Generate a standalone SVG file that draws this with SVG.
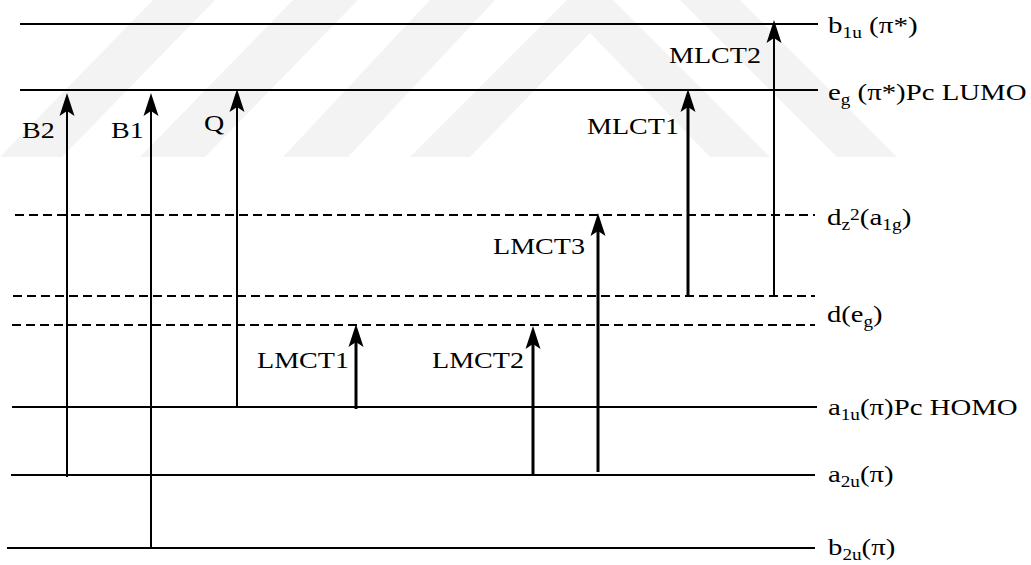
<svg xmlns="http://www.w3.org/2000/svg" width="1031" height="565" viewBox="0 0 1031 565">
  <style>
    .lvl { stroke: #000; stroke-width: 2; fill: none; }
    .dash { stroke: #000; stroke-width: 2; fill: none; stroke-dasharray: 9 5; }
    .arr { stroke: #000; stroke-width: 2; fill: none; marker-end: url(#head); }
    .arr.bold { stroke-width: 3; }
    text { font-family: "Liberation Serif", "Times New Roman", serif; font-size: 24px; fill: #000; }
    .sub { font-size: 16px; }
    .wm { fill: #f3f3f3; }
  </style>
  <defs>
    <marker id="head" viewBox="0 0 24 16" refX="5" refY="8" markerWidth="24" markerHeight="16" markerUnits="userSpaceOnUse" orient="auto">
      <path d="M0,0.5 L23,8 L0,15.5 L5,8 Z" fill="#000"/>
    </marker>
  </defs>

  <rect width="1031" height="565" fill="#fff"/>

  <!-- faint background emblem -->
  <g id="emblem">
    <polygon class="wm" points="0,157 62,157 215,0 153,0"/>
    <polygon class="wm" points="140,157 205,157 358,0 293,0"/>
    <polygon class="wm" points="283,157 348,157 495,0 430,0"/>
    <polygon class="wm" points="410,157 567,0 613,0 770,157 710,157 590,33 470,157"/>
    <polygon class="wm" points="680,0 740,0 897,157 837,157"/>
  </g>

  <!-- energy levels -->
  <g id="level-b1u">
    <line class="lvl" x1="20" y1="24" x2="818" y2="24"/>
    <g transform="translate(828,33) scale(1.21,1)"><text>b<tspan class="sub" dy="5">1u</tspan><tspan dy="-5"> (π*)</tspan></text></g>
  </g>
  <g id="level-eg">
    <line class="lvl" x1="20" y1="90" x2="818" y2="90"/>
    <g transform="translate(828,100) scale(1.2,1)"><text>e<tspan class="sub" dy="5">g</tspan><tspan dy="-5"> (π*)Pc LUMO</tspan></text></g>
  </g>
  <g id="level-dz2">
    <line class="dash" x1="15" y1="215" x2="815" y2="215"/>
    <g transform="translate(827,225) scale(1.21,1)"><text>d<tspan class="sub" dy="5">z</tspan><tspan class="sub" dy="-10">2</tspan><tspan dy="5">(a</tspan><tspan class="sub" dy="5">1g</tspan><tspan dy="-5">)</tspan></text></g>
  </g>
  <g id="level-deg">
    <line class="dash" x1="13" y1="296" x2="815" y2="296"/>
    <line class="dash" x1="12" y1="325" x2="815" y2="325"/>
    <g transform="translate(827,322) scale(1.19,1)"><text>d(e<tspan class="sub" dy="5">g</tspan><tspan dy="-5">)</tspan></text></g>
  </g>
  <g id="level-a1u">
    <line class="lvl" x1="12" y1="407" x2="817" y2="407"/>
    <g transform="translate(828,415) scale(1.2,1)"><text>a<tspan class="sub" dy="5">1u</tspan><tspan dy="-5">(π)Pc HOMO</tspan></text></g>
  </g>
  <g id="level-a2u">
    <line class="lvl" x1="11" y1="475" x2="815" y2="475"/>
    <g transform="translate(828,482) scale(1.2,1)"><text>a<tspan class="sub" dy="5">2u</tspan><tspan dy="-5">(π)</tspan></text></g>
  </g>
  <g id="level-b2u">
    <line class="lvl" x1="7" y1="548" x2="815" y2="548"/>
    <g transform="translate(828,555) scale(1.2,1)"><text>b<tspan class="sub" dy="5">2u</tspan><tspan dy="-5">(π)</tspan></text></g>
  </g>

  <!-- transitions -->
  <g id="transitions">
    <line class="arr" x1="67" y1="477" x2="67" y2="111"/>
    <line class="arr" x1="151" y1="549" x2="151" y2="111"/>
    <line class="arr" x1="237" y1="406" x2="237" y2="107"/>
    <line class="arr bold" x1="356" y1="409" x2="356" y2="342"/>
    <line class="arr bold" x1="533" y1="476" x2="533" y2="344"/>
    <line class="arr bold" x1="598" y1="472" x2="598" y2="231"/>
    <line class="arr bold" x1="688" y1="296" x2="688" y2="107"/>
    <line class="arr" x1="774" y1="296" x2="774" y2="38"/>
  </g>

  <!-- transition labels -->
  <g id="labels">
    <g transform="translate(22,138) scale(1.17,1)"><text>B2</text></g>
    <g transform="translate(111,138) scale(1.17,1)"><text>B1</text></g>
    <g transform="translate(204,131) scale(1.17,1)"><text>Q</text></g>
    <g transform="translate(587,134) scale(1.17,1)"><text>MLCT1</text></g>
    <g transform="translate(669,63) scale(1.17,1)"><text>MLCT2</text></g>
    <g transform="translate(493,254) scale(1.17,1)"><text>LMCT3</text></g>
    <g transform="translate(257,368) scale(1.17,1)"><text>LMCT1</text></g>
    <g transform="translate(432,368) scale(1.17,1)"><text>LMCT2</text></g>
  </g>
</svg>
